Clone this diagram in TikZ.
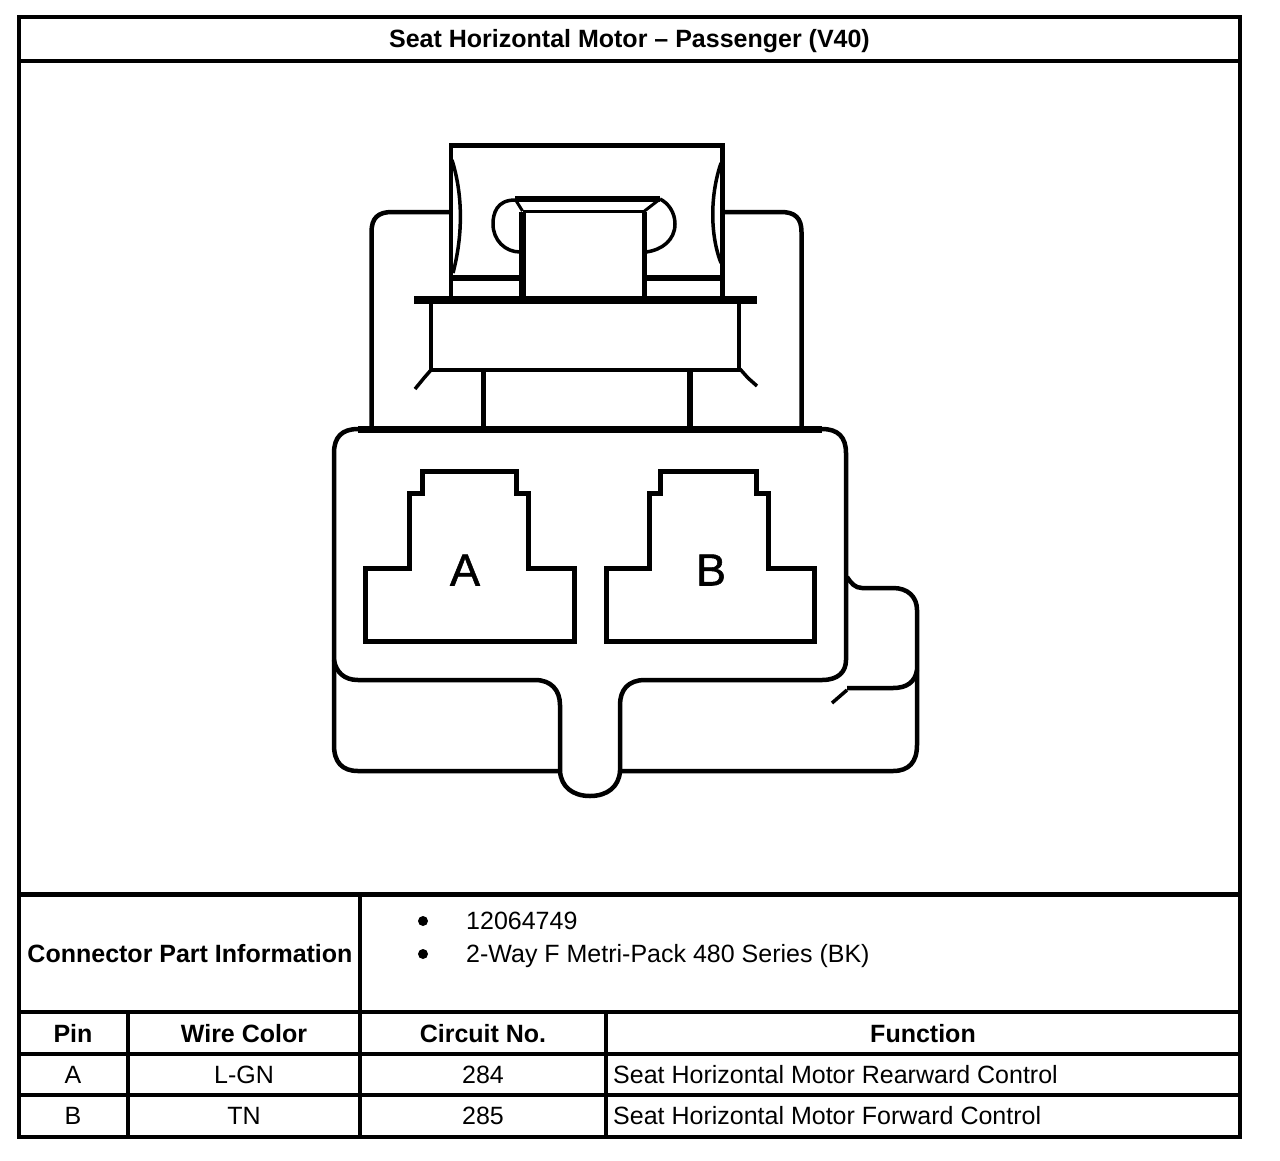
\documentclass[tikz,border=0pt]{standalone}
\usepackage{fontspec}
\setmainfont{Liberation Sans}
\newfontfamily\pinfont[FakeBold=1.2]{Liberation Sans}
\newcommand{\fs}{\fontsize{25}{29}\selectfont}
\tikzset{
 grid/.style={line width=4pt,line cap=rect},
 art/.style={line width=4.5pt,line join=round},
 thinart/.style={line width=3.5pt,line join=round},
 pocket/.style={line width=5pt,line join=miter},
 hd/.style={font=\fs\bfseries,inner sep=0pt,anchor=center,text height=18pt,text depth=0.5pt},
 cell/.style={font=\fs,inner sep=0pt,anchor=center,text height=18pt,text depth=0.5pt},
 lcell/.style={font=\fs,inner sep=0pt,anchor=west,text height=18pt,text depth=0.5pt},
}
\begin{document}
\begin{tikzpicture}[x=1pt,y=-1pt]
\useasboundingbox (0,0) rectangle (1280,1160);
% frame and table
\draw[grid] (19,17) rectangle (1240,1137);
\draw[grid] (19,61) -- (1240,61);
\draw[grid,line width=5pt,line cap=butt] (19,894) -- (1240,894);
\draw[grid] (19,1012) -- (1240,1012);
\draw[grid] (19,1054) -- (1240,1054);
\draw[grid] (19,1095) -- (1240,1095);
\draw[grid] (360,894) -- (360,1137);
\draw[grid] (128,1012) -- (128,1137);
\draw[grid] (606,1012) -- (606,1137);
% texts
\node[hd] (title) at (629.5,39) {Seat Horizontal Motor – Passenger (V40)};
\node[hd] (cpi) at (190,954) {Connector Part Information};
\fill (423,921) circle (5);
\fill (423,954) circle (5);
\node[lcell] (pn) at (466,921) {12064749};
\node[lcell] (ty) at (466,954) {2-Way F Metri-Pack 480 Series (BK)};
\node[hd] (h1) at (73,1034) {Pin};
\node[hd] (h2) at (244,1034) {Wire Color};
\node[hd] (h3) at (483,1034) {Circuit No.};
\node[hd] (h4) at (923,1034) {Function};
\node[cell] (a1) at (73,1075) {A};
\node[cell] (a2) at (244,1075) {L-GN};
\node[cell] (a3) at (483,1075) {284};
\node[lcell] (a4) at (613,1075) {Seat Horizontal Motor Rearward Control};
\node[cell] (b1) at (73,1116) {B};
\node[cell] (b2) at (244,1116) {TN};
\node[cell] (b3) at (483,1116) {285};
\node[lcell] (b4) at (613,1116) {Seat Horizontal Motor Forward Control};
% upper connector
\draw[art,line join=miter] (451,300) -- (451,145.5) -- (722.5,145.5) -- (722.5,300);
\draw[line width=8pt] (414,300) -- (757,300);
\draw[art,line join=miter] (431,300) -- (431,370) -- (739,370) -- (739,300);
\draw[thinart] (431,370) -- (424,378) -- (415,389);
\draw[thinart] (740,369) -- (748,378) -- (757,386);
\draw[art] (483.5,370) -- (483.5,429);
\draw[line width=5.5pt] (690,370) -- (690,429);
% side arms
\draw[art] (371.5,429) -- (371.5,232) .. controls (371.5,218) and (378,212) .. (392,212) -- (450,212);
\draw[art] (801.5,429) -- (801.5,232) .. controls (801.5,218) and (795,212) .. (781,212) -- (723,212);
% lens shapes
\draw[thinart] (452,160) .. controls (463,195) and (463,235) .. (453,273);
\draw[thinart] (721,163) .. controls (710,195) and (710,235) .. (721,263);
% centre latch
\draw[line width=6.5pt] (522.5,300) -- (522.5,212);
\draw[line width=5pt] (644.5,300) -- (644.5,212);
\draw[line width=3pt] (522.5,211) -- (644.5,211);
\draw[line width=6pt] (515,199) -- (660,199);
\draw[line width=3pt] (515,199) -- (522.5,211);
\draw[line width=3pt] (660,199) -- (644.5,211);
\draw[thinart] (515,200) .. controls (497,200) and (493,213) .. (493,224) .. controls (493,240) and (505,252) .. (520,252);
\draw[thinart] (660,199) .. controls (668,203) and (675,212) .. (675,224) .. controls (675,240) and (662,250) .. (646,252);
\draw[line width=6pt] (451,278) -- (522,278);
\draw[line width=6pt] (645,278) -- (722,278);
% plug body
\draw[line width=7pt] (358,429) -- (822,429);
\draw[art] (358,429) .. controls (342,429) and (334,437) .. (334,453) -- (334,745)
  .. controls (334,762) and (342,771) .. (358,771) -- (560,771);
\draw[art] (822,429) .. controls (838,429) and (846,437) .. (846,453) -- (846,660)
  .. controls (846,672) and (838,680) .. (822,680) -- (645,680)
  .. controls (628,680) and (620,690) .. (620,705) -- (620,771);
\draw[art] (334,660) .. controls (336,672) and (344,680) .. (358,680) -- (535,680)
  .. controls (551,680) and (560,690) .. (560,705) -- (560,771);
\draw[art] (560,771) .. controls (561,787) and (573,796) .. (590,796) .. controls (607,796) and (619,787) .. (620,771)
  -- (893,771) .. controls (909,771) and (917,762) .. (917,745) -- (917,610)
  .. controls (917,597) and (908,588) .. (893,588) -- (862,588) .. controls (855,588) and (851,583) .. (847,577);
\draw[art] (847,688) -- (893,688) .. controls (907,688) and (915,682) .. (917,670);
\draw[thinart] (847,690) -- (832,703);
% pockets
\draw[pocket] (422,471) -- (516,471) -- (516,493) -- (528,493) -- (528,568) -- (574,568) -- (574,641) -- (365,641) -- (365,568) -- (409,568) -- (409,493) -- (422,493) -- cycle;
\draw[pocket] (660,471) -- (756,471) -- (756,493) -- (768,493) -- (768,568) -- (814,568) -- (814,641) -- (606,641) -- (606,568) -- (649,568) -- (649,493) -- (660,493) -- cycle;
\node[inner sep=0pt,font=\fontsize{45}{50}\pinfont] (la) at (465,570) {A};
\node[inner sep=0pt,font=\fontsize{45}{50}\pinfont] (lb) at (711,570) {B};
\end{tikzpicture}
\end{document}
